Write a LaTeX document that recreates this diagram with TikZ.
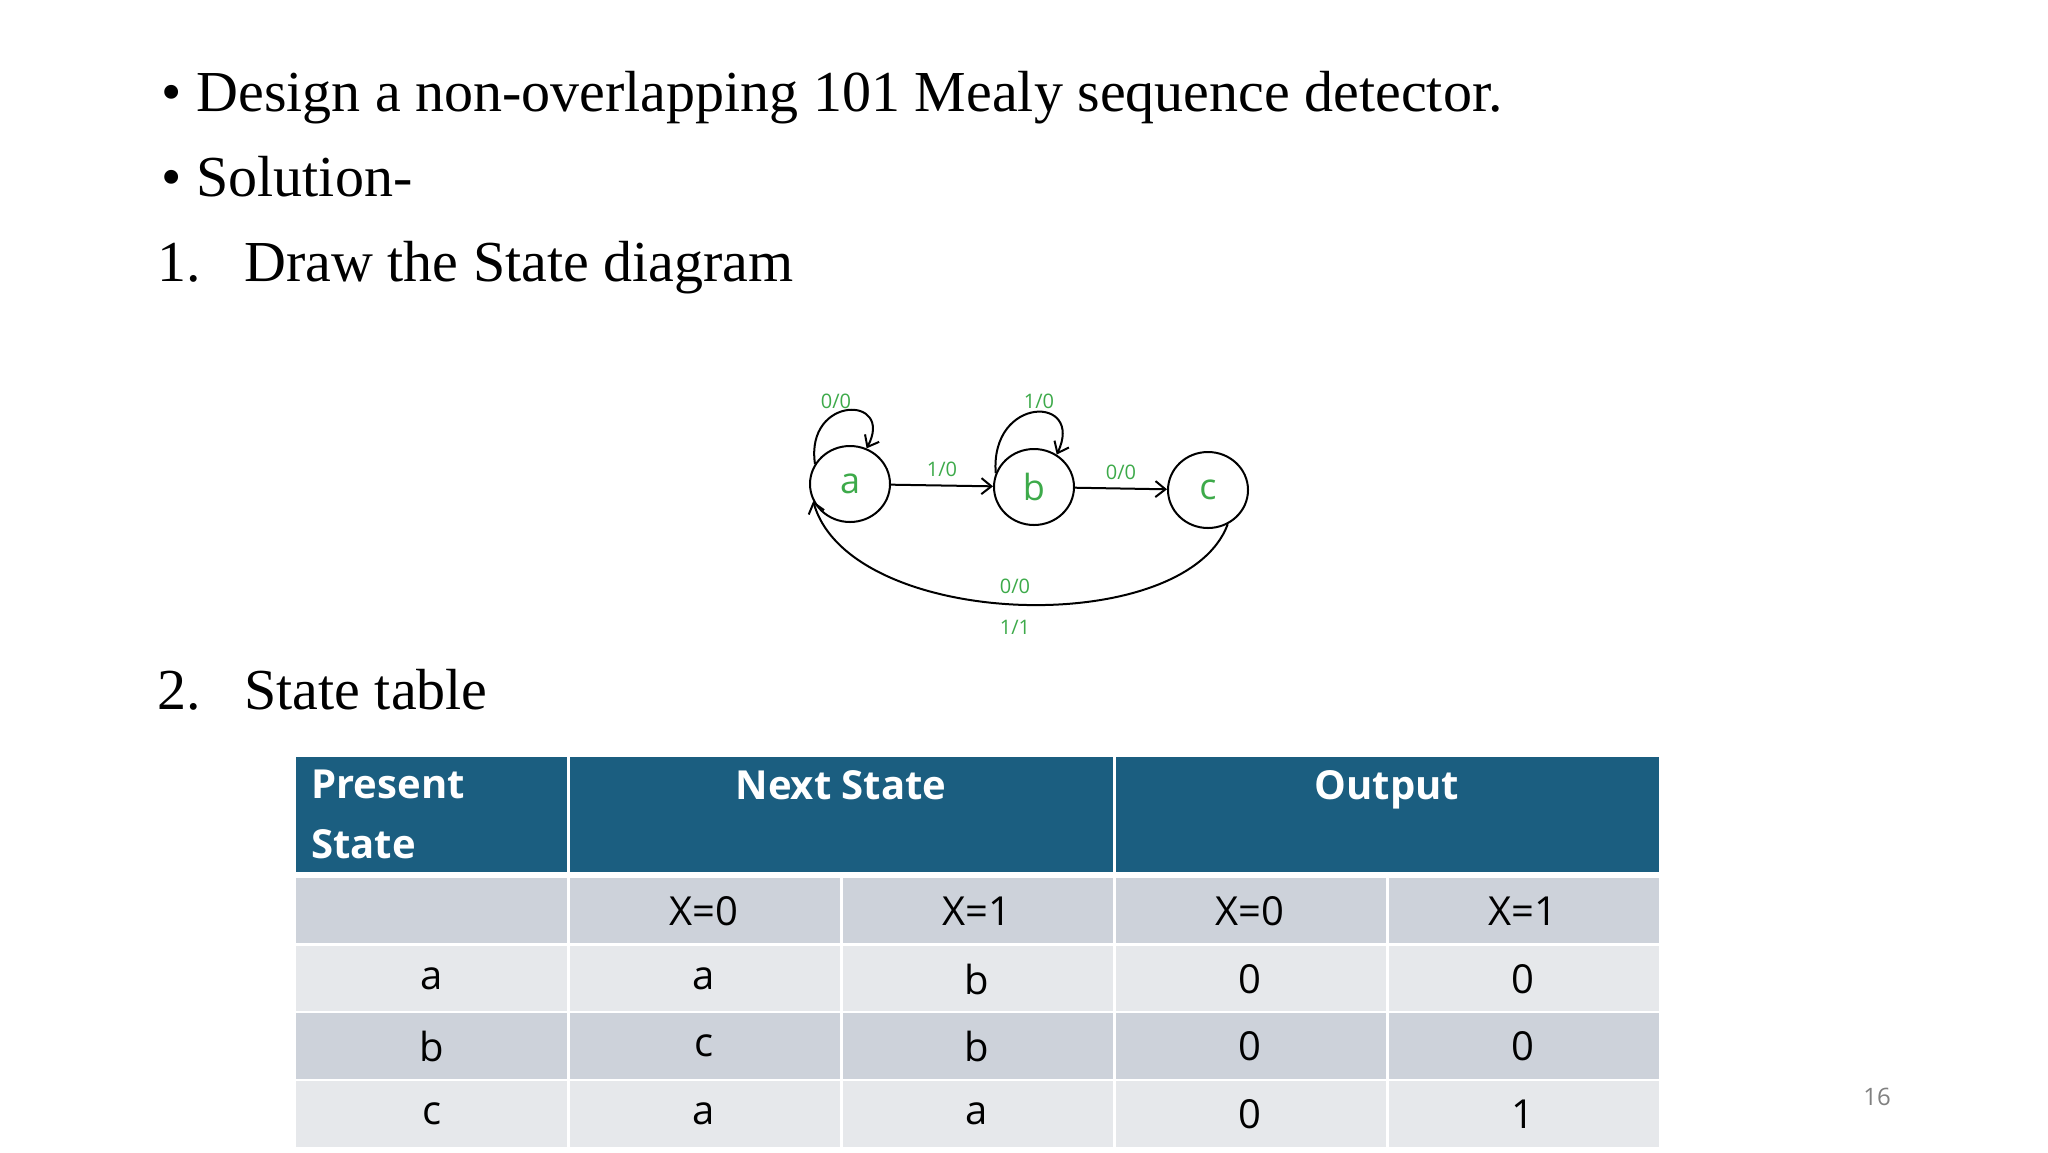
\documentclass[tikz,border=0pt]{standalone}
\usepackage{fontspec}
\setmainfont{Liberation Serif}
\newfontfamily\osans{Open Sans}
\usetikzlibrary{arrows.meta}
\definecolor{hdr}{HTML}{1B5E80}
\definecolor{rowA}{HTML}{CDD2DA}
\definecolor{rowB}{HTML}{E6E8EB}
\definecolor{grn}{HTML}{3DAA4A}
\tikzset{
  body/.style={anchor=base west,font=\fontsize{29}{34}\selectfont,inner sep=0},
  st/.style={draw,line width=1pt,ellipse,minimum width=40pt,minimum height=38pt,inner sep=0,font=\osans\fontsize{18}{20}\selectfont,text=grn},
  lab/.style={font=\osans\fontsize{10}{12}\selectfont,text=grn,inner sep=1pt},
  tr/.style={line width=1pt,-{Straight Barb[length=5pt,width=8pt]}},
  cell/.style={font=\osans\fontsize{20}{24}\selectfont,inner sep=0},
  hcell/.style={font=\osans\bfseries\fontsize{20}{30}\selectfont,text=white,inner sep=0}
}
\usetikzlibrary{shapes.geometric}
\begin{document}
\begin{tikzpicture}[x=0.5pt,y=-0.5pt]
\useasboundingbox[fill=white] (0,0) rectangle (2048,1152);
% text
\node[body] (b1) at (161,111) {\textbullet};
\node[body] (t1) at (196,111) {Design a non-overlapping 101 Mealy sequence detector.};
\node[body] (b2) at (161,196) {\textbullet};
\node[body] (t2) at (196,196) {Solution-};
\node[body] (n1) at (157,281) {1.};
\node[body] (t3) at (244,281) {Draw the State diagram};
\node[body] (n2) at (157,709) {2.};
\node[body] (t4) at (244,709) {State table};
% state diagram
\node[st] (a) at (850,484) {a};
\node[st] (b) at (1034,487) {b};
\node[st] (c) at (1208,490) {c};
\draw[tr] (a) -- (b) node[lab,midway,above=3pt] {1/0};
\draw[tr] (b) -- (c) node[lab,midway,above=3pt] {0/0};
\draw[tr] (a.150) .. controls (805,395) and (895,395) .. (a.65);
\node[lab] (la) at (836,401) {0/0};
\draw[tr] (b.160) .. controls (990,395) and (1085,395) .. (b.55);
\node[lab] (lb) at (1039,401) {1/0};
\draw[tr] (c.-60) .. controls (1185,640) and (850,630) .. (a.-155);
\node[lab] (l1) at (1015,586) {0/0};
\node[lab] (l2) at (1015,627) {1/1};
% table
\def\cx{{296,568,841,1114,1387,1659}}
\fill[hdr] (296,757) rectangle (1659,872);
\draw[white,line width=1.5pt] (568,757) -- (568,872) (1114,757) -- (1114,872);
\foreach \ya/\yb/\cl in {878/943/rowA,946/1011/rowB,1013/1079/rowA,1081/1147/rowB}{
  \fill[\cl] (296,\ya) rectangle (1659,\yb);
  \foreach \xx in {568,841,1114,1387}{\draw[white,line width=1.5pt] (\xx,\ya) -- (\xx,\yb);}
}
\node[hcell,anchor=north west,align=left] (h1) at (311,770) {Present\\State};
\node[hcell,anchor=north] (h2) at (841,770) {Next State};
\node[hcell,anchor=north] (h3) at (1387,770) {Output};
\foreach \r/\y in {0/911,1/979,2/1046,3/1114}{}
\node[cell] at (704,911) {X=0}; \node[cell] at (977,911) {X=1};
\node[cell] at (1250,911) {X=0}; \node[cell] at (1523,911) {X=1};
\node[cell] at (432,979) {a}; \node[cell] at (704,979) {a}; \node[cell] at (977,979) {b}; \node[cell] at (1250,979) {0}; \node[cell] at (1523,979) {0};
\node[cell] at (432,1046) {b}; \node[cell] at (704,1046) {c}; \node[cell] at (977,1046) {b}; \node[cell] at (1250,1046) {0}; \node[cell] at (1523,1046) {0};
\node[cell] at (432,1114) {c}; \node[cell] at (704,1114) {a}; \node[cell] at (977,1114) {a}; \node[cell] at (1250,1114) {0}; \node[cell] at (1523,1114) {1};
\node[font=\osans\fontsize{12}{14}\selectfont,text=gray] (pg) at (1877,1097) {16};
\end{tikzpicture}
\end{document}
